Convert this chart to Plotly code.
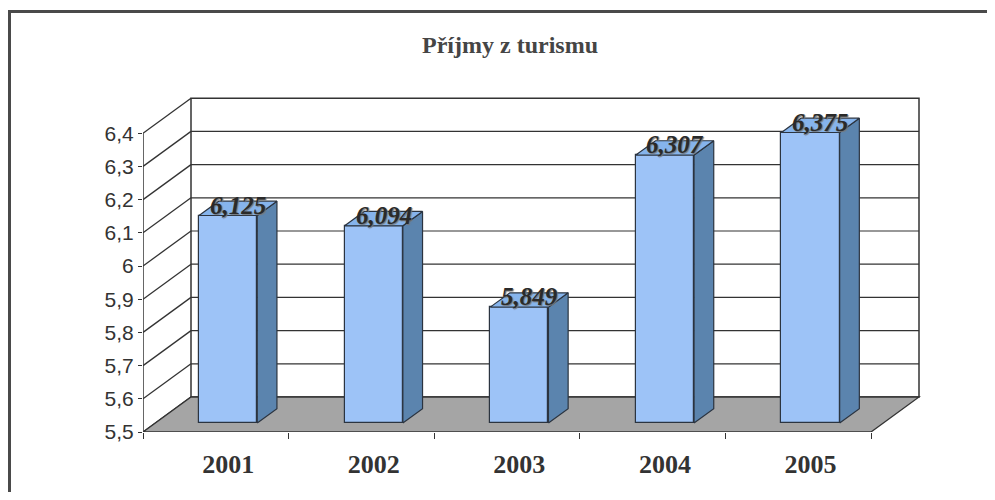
import plotly.graph_objects as go

# ---------------- data ----------------
years = ["2001", "2002", "2003", "2004", "2005"]
values = [6.125, 6.094, 5.849, 6.307, 6.375]
value_labels = ["6,125", "6,094", "5,849", "6,307", "6,375"]
y_tickvals = [5.5, 5.6, 5.7, 5.8, 5.9, 6.0, 6.1, 6.2, 6.3, 6.4]
y_ticktext = ["5,5", "5,6", "5,7", "5,8", "5,9", "6", "6,1", "6,2", "6,3", "6,4"]
title_text = "Příjmy z turismu"

# ---------------- geometry (pixel layout of the pseudo-3D frame) ----------------
OFF = 8                                  # default page body margin
W, H = 995 - OFF, 500 - 2 * OFF
L, R, T, B = 143 - OFF, 922 - OFF, 90 - OFF, 432 - OFF   # plot area in figure pixels
PX_X = 145.6                             # pixels per category
PX_Y = 332.0                             # pixels per value unit
Y0, YTOP = y_tickvals[0], y_tickvals[-1]
N = len(years)
DX = 48 / PX_X                           # full depth shift (x, data units)
DY = 35 / PX_Y                           # full depth shift (y, data units)
F0 = 0.257                               # depth of bar front face
FD = 0.41                                # bar depth
BW = 0.4                                 # bar width

FRONT = "#9DC3F7"
SIDE = "#5B84AE"
TOP = "#86B4EC"
EDGE = "#2b3440"
FLOOR = "#A5A5A5"
LINE = "#333333"

x_front = [i + 0.5 + F0 * DX for i in range(N)]
base = Y0 + F0 * DY
tops = [v + F0 * DY for v in values]

fig = go.Figure()

# front faces of bars
fig.add_trace(go.Bar(
    x=x_front, y=[v - Y0 for v in values], base=base, width=BW,
    marker=dict(color=FRONT, line=dict(color=EDGE, width=1.2)),
    hoverinfo="skip",
))

# side faces
sx, sy = [], []
for xc, tp in zip(x_front, tops):
    xr = xc + BW / 2
    sx += [xr, xr + FD * DX, xr + FD * DX, xr, xr, None]
    sy += [base, base + FD * DY, tp + FD * DY, tp, base, None]
fig.add_trace(go.Scatter(x=sx, y=sy, mode="lines", fill="toself", fillcolor=SIDE,
                         line=dict(color=EDGE, width=1.2), hoverinfo="skip"))

# top faces
tx, ty = [], []
for xc, tp in zip(x_front, tops):
    xl, xr = xc - BW / 2, xc + BW / 2
    tx += [xl, xr, xr + FD * DX, xl + FD * DX, xl, None]
    ty += [tp, tp, tp + FD * DY, tp + FD * DY, tp, None]
fig.add_trace(go.Scatter(x=tx, y=ty, mode="lines", fill="toself", fillcolor=TOP,
                         line=dict(color=EDGE, width=1.2), hoverinfo="skip"))

# ---------------- walls, floor, gridlines (shapes below traces) ----------------
shapes = []
shapes.append(dict(type="rect", layer="below", x0=DX, x1=N + DX, y0=Y0 + DY, y1=YTOP + DY,
                   fillcolor="white", line=dict(color=LINE, width=1.5)))
for t in y_tickvals[1:-1]:
    shapes.append(dict(type="line", layer="below", x0=DX, x1=N + DX, y0=t + DY, y1=t + DY,
                       line=dict(color=LINE, width=1.2)))
for t in y_tickvals:
    shapes.append(dict(type="line", layer="below", x0=0, x1=DX, y0=t, y1=t + DY,
                       line=dict(color=LINE, width=1.3)))
shapes.append(dict(type="line", layer="below", x0=0, x1=0, y0=Y0, y1=YTOP,
                   line=dict(color=LINE, width=1.5)))
shapes.append(dict(type="path", layer="below",
                   path=f"M 0,{Y0} L {N},{Y0} L {N + DX},{Y0 + DY} L {DX},{Y0 + DY} Z",
                   fillcolor=FLOOR, line=dict(color=LINE, width=1.3)))

# outer frame (reference pixel positions converted to paper coords)
def px2paper_x(px):
    return (px - OFF - L) / (R - L)

def px2paper_y(py):
    return (B - (py - OFF)) / (B - T)

shapes.append(dict(type="rect", xref="paper", yref="paper",
                   x0=px2paper_x(9.5), x1=px2paper_x(1030), y0=px2paper_y(540), y1=px2paper_y(11.5),
                   line=dict(color="#4a4a4a", width=3), fillcolor="rgba(0,0,0,0)"))

# ---------------- data labels ----------------
annotations = []
for xc, tp, lab in zip(x_front, tops, value_labels):
    annotations.append(dict(
        x=xc + FD * DX / 2, y=tp + FD * DY / 2, yshift=3, text=lab, showarrow=False,
        xanchor="center", yanchor="middle",
        font=dict(family="Liberation Serif", size=25, color="#2a2a2a",
                  weight="bold", style="italic", shadow="1px 1px 1px #777"),
    ))

fig.update_layout(
    width=W, height=H,
    margin=dict(l=L, r=W - R, t=T, b=H - B, pad=0),
    paper_bgcolor="white", plot_bgcolor="rgba(0,0,0,0)",
    showlegend=False,
    bargap=0,
    title=dict(text=title_text, x=(510 - OFF) / W, xanchor="center", xref="container",
               y=1 - (45 - OFF) / H, yanchor="middle", yref="container",
               font=dict(family="Liberation Serif", size=24, color="#454545", weight="bold")),
    xaxis=dict(range=[0, (R - L) / PX_X], showgrid=False, zeroline=False, showline=False,
               tickmode="array", tickvals=x_front, ticktext=years, ticks="",
               ticklabelstandoff=14,
               tickfont=dict(family="Liberation Serif", size=26, color="#333333", weight="bold"),
               minor=dict(tickmode="linear", tick0=0, dtick=1, ticks="outside", ticklen=6,
                          tickcolor=LINE, tickwidth=1.3)),
    yaxis=dict(range=[Y0, Y0 + (B - T) / PX_Y], showgrid=False, zeroline=False, showline=False,
               tickmode="array", tickvals=y_tickvals, ticktext=y_ticktext,
               ticks="outside", ticklen=4, tickcolor=LINE, tickwidth=1.3,
               tickfont=dict(family="Liberation Sans", size=21, color="#333333")),
    shapes=shapes,
    annotations=annotations,
)

fig.write_html("out.html")
